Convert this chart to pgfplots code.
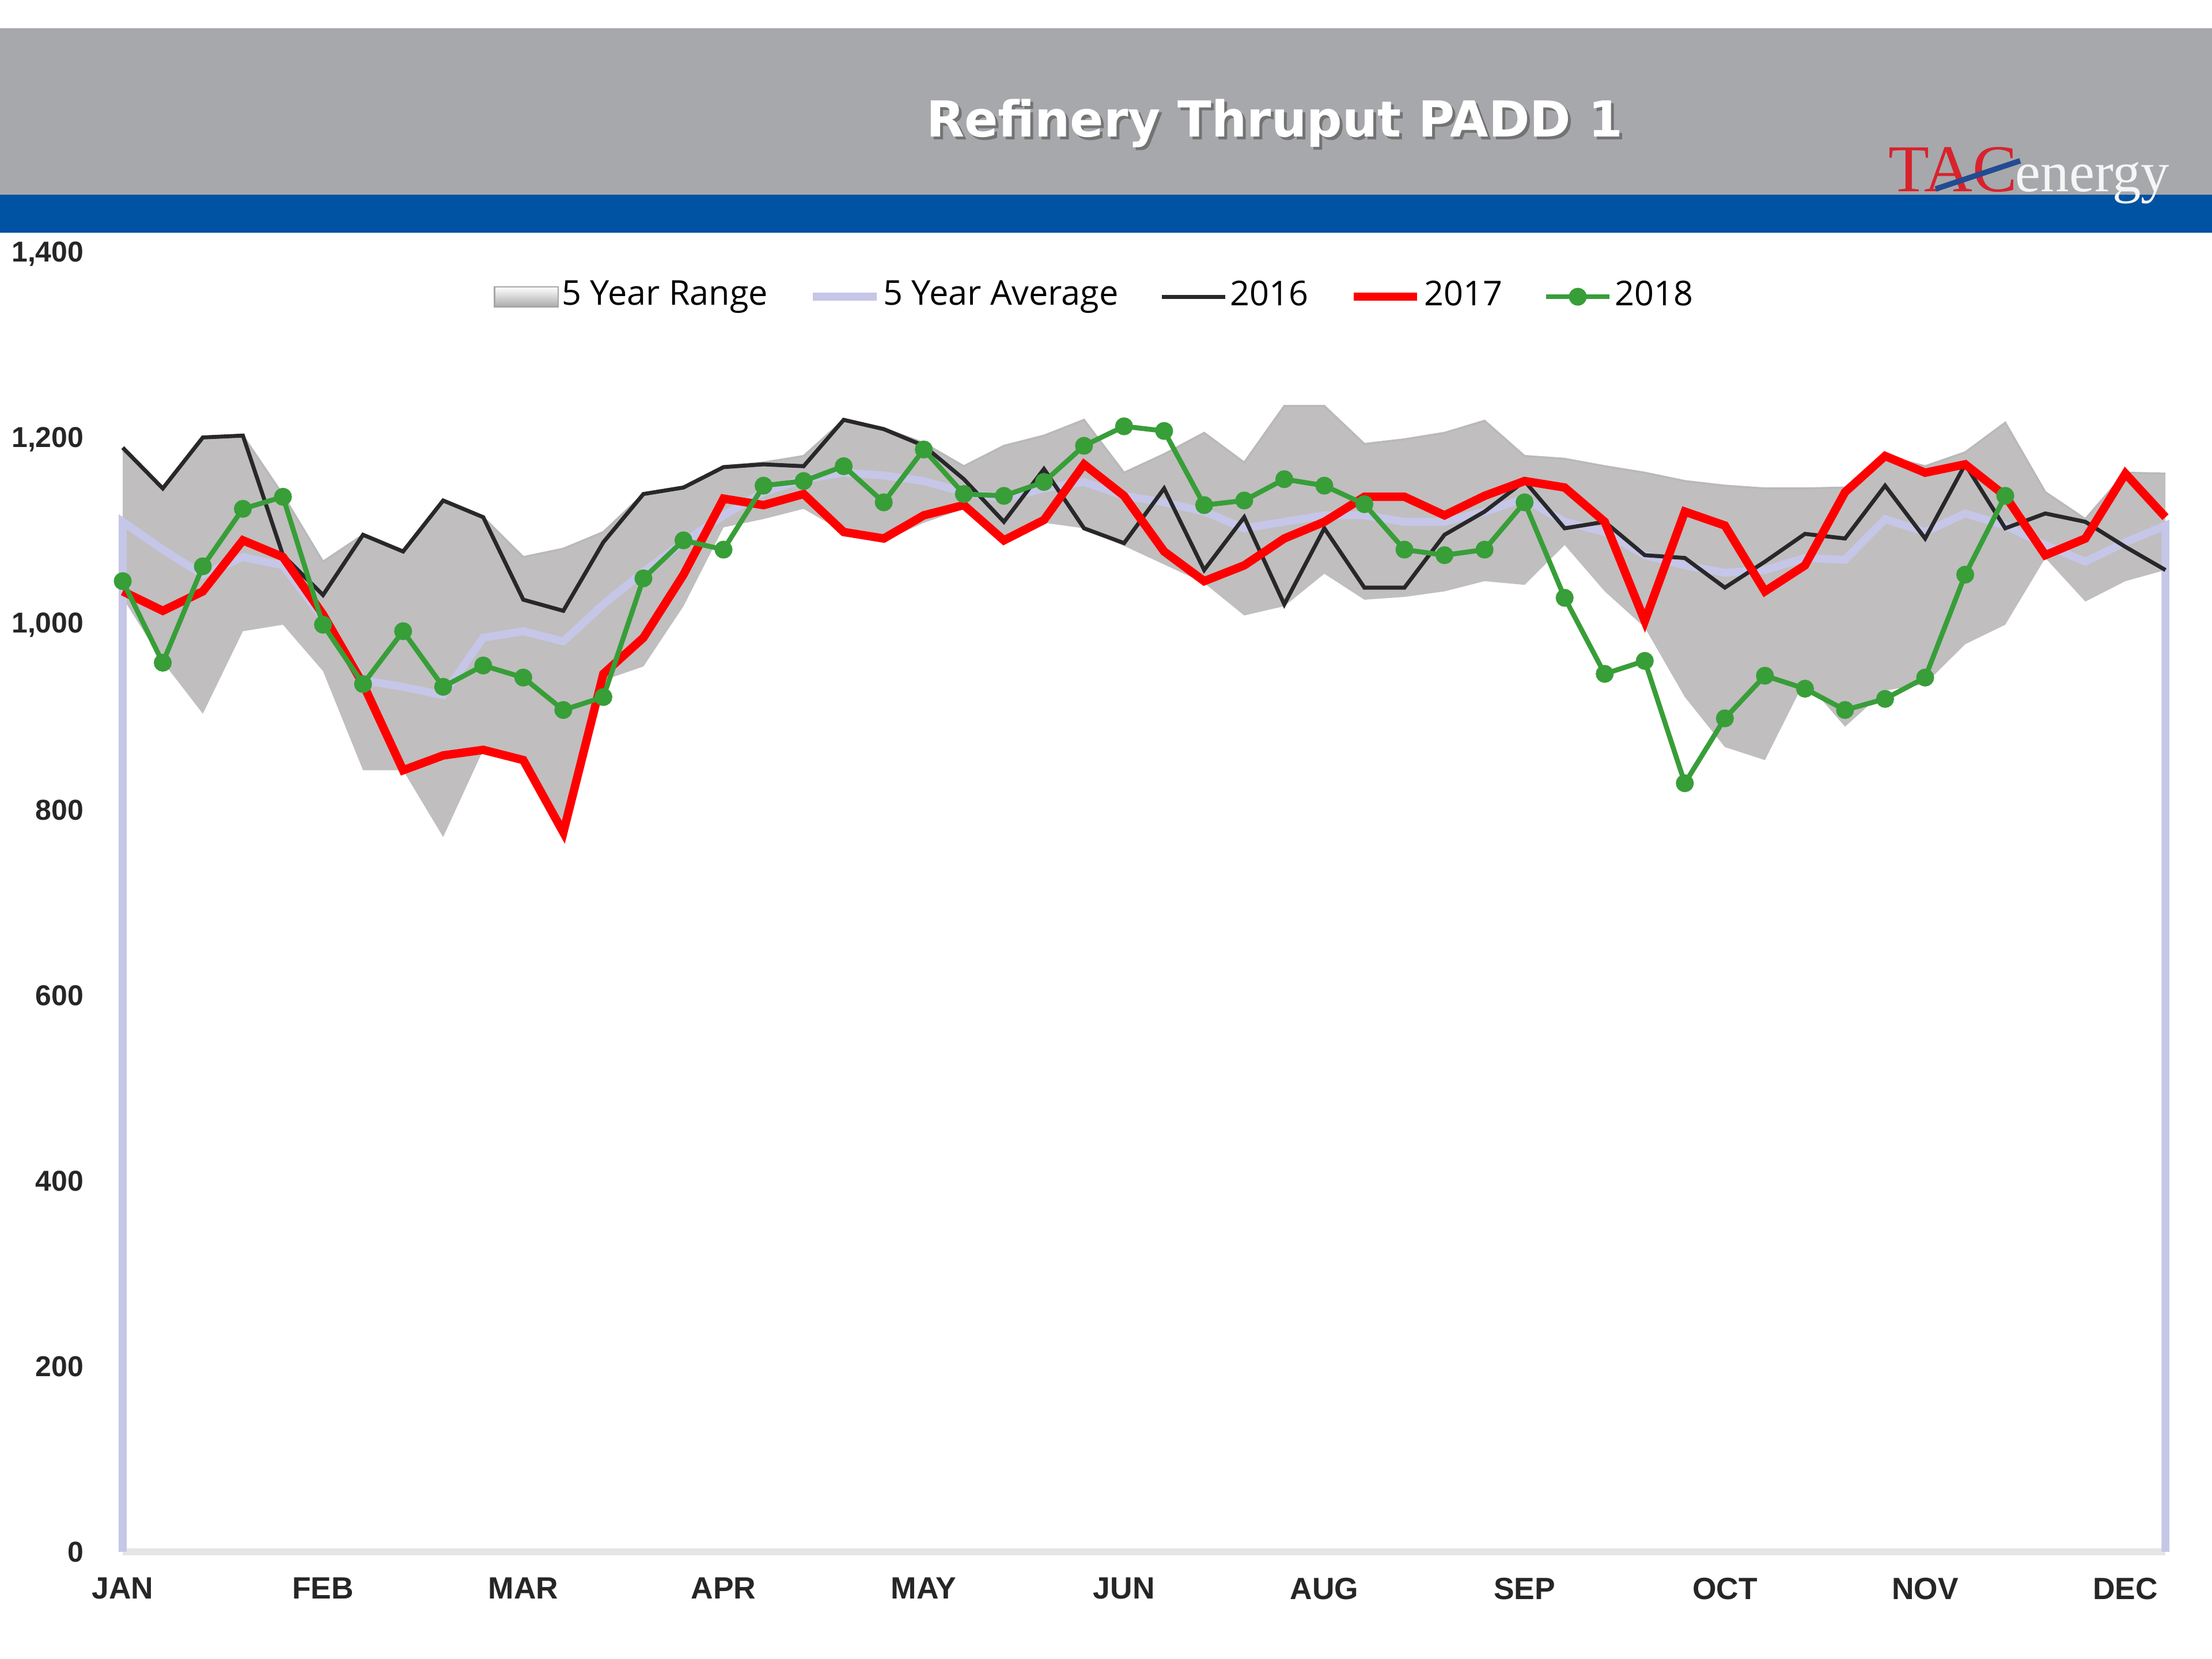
\documentclass[border=0pt]{standalone}
\usepackage{fontspec}
\setmainfont{Liberation Sans}
\newfontfamily\legfont{Open Sans}
\newfontfamily\titlefont{DejaVu Sans}
\newfontfamily\logofont{Liberation Serif}
\usepackage{graphicx}
\usepackage{pgfplots}
\pgfplotsset{compat=1.18}
\usepackage{pgfplotstable}

\definecolor{hdrgray}{RGB}{166,168,172}
\definecolor{hdrblue}{RGB}{0,82,162}
\definecolor{rangefill}{RGB}{192,190,191}
\definecolor{avgcol}{RGB}{198,198,232}
\definecolor{c16}{RGB}{40,40,42}
\definecolor{c17}{RGB}{255,0,0}
\definecolor{c18}{RGB}{56,158,56}
\definecolor{tacred}{RGB}{215,35,45}
\definecolor{swoosh}{RGB}{35,75,145}

% 5-year range polygon: upper edge week 0..51, then lower edge week 51..0
\pgfplotstableread{
w v
0 1188
1 1147
2 1202
3 1204
4 1140
5 1068
6 1097
7 1079
8 1134
9 1116
10 1073
11 1082
12 1100
13 1141
14 1148
15 1171
16 1175
17 1182
18 1221
19 1212
20 1196
21 1171
22 1193
23 1204
24 1221
25 1164
26 1184
27 1207
28 1175
29 1236
30 1236
31 1195
32 1200
33 1207
34 1220
35 1182
36 1179
37 1171
38 1164
39 1155
40 1150
41 1147
42 1147
43 1148
44 1182
45 1171
46 1186
47 1218
48 1143
49 1114
50 1164
51 1163
51 1059
50 1047
49 1025
48 1072
47 1000
46 979
45 936
44 929
43 890
42 940
41 854
40 868
39 922
38 997
37 1036
36 1086
35 1043
34 1047
33 1036
32 1030
31 1027
30 1055
29 1020
28 1010
27 1045
26 1065
25 1085
24 1104
23 1110
22 1090
21 1125
20 1110
19 1090
18 1100
17 1125
16 1114
15 1105
14 1020
13 955
12 940
11 776
10 854
9 865
8 771
7 843
6 843
5 950
4 1000
3 993
2 904
1 960
0 1029
}\rangepoly

\pgfplotstableread{
w hi y16 y17
0 1188 1191 1036
1 1147 1147 1015
2 1202 1202 1036
3 1204 1204 1091
4 1140 1075 1073
5 1068 1032 1011
6 1097 1097 936
7 1079 1079 843
8 1134 1134 859
9 1116 1116 865
10 1073 1027 854
11 1082 1015 776
12 1100 1089 947
13 1141 1141 986
14 1148 1148 1054
15 1171 1170 1136
16 1175 1173 1129
17 1182 1171 1141
18 1221 1221 1100
19 1212 1211 1093
20 1196 1193 1118
21 1171 1157 1129
22 1193 1111 1091
23 1204 1168 1113
24 1221 1104 1173
25 1164 1088 1139
26 1184 1147 1079
27 1207 1059 1047
28 1175 1116 1064
29 1236 1022 1093
30 1236 1104 1111
31 1195 1040 1138
32 1200 1040 1138
33 1207 1097 1118
34 1220 1122 1139
35 1182 1155 1155
36 1179 1104 1148
37 1171 1111 1111
38 1164 1075 1004
39 1155 1072 1122
40 1150 1040 1107
41 1147 1068 1036
42 1147 1098 1064
43 1148 1093 1143
44 1182 1150 1182
45 1171 1093 1164
46 1186 1173 1173
47 1218 1104 1139
48 1143 1120 1075
49 1114 1111 1093
50 1164 1084 1163
51 1163 1059 1116
}\rangedata

\pgfplotstableread{
w avg
0 0
0 1111
1 1081
2 1054
3 1073
4 1064
5 1007
6 940
7 933
8 924
9 986
10 993
11 982
12 1022
13 1057
14 1089
15 1118
16 1143
17 1157
18 1164
19 1161
20 1155
21 1143
22 1136
23 1147
24 1154
25 1139
26 1132
27 1122
28 1104
29 1111
30 1118
31 1118
32 1111
33 1111
34 1122
35 1136
36 1111
37 1100
38 1075
39 1064
40 1056
41 1059
42 1072
43 1070
44 1114
45 1100
46 1120
47 1107
48 1086
49 1068
50 1089
51 1107
51 0
}\avgdata

\pgfplotstableread{
w y18
0 1047
1 959
2 1063
3 1125
4 1138
5 1000
6 936
7 993
8 933
9 956
10 943
11 908
12 922
13 1050
14 1091
15 1081
16 1150
17 1155
18 1171
19 1132
20 1189
21 1141
22 1139
23 1154
24 1193
25 1214
26 1209
27 1129
28 1134
29 1157
30 1150
31 1130
32 1081
33 1075
34 1081
35 1132
36 1029
37 947
38 961
39 829
40 899
41 945
42 931
43 908
44 920
45 943
46 1054
47 1139
}\greendata

\begin{document}
\begin{tikzpicture}
\fill[white] (0,0) rectangle (15.68,11.76);
\fill[hdrgray] (0,10.38) rectangle (15.68,11.56);
\fill[hdrblue] (0,10.11) rectangle (15.68,10.38);
\node[text=black!55, inner sep=0] at (9.055,10.865) {\titlefont\bfseries\fontsize{10}{12}\selectfont Refinery Thruput PADD 1};
\node[text=white, inner sep=0] at (9.035,10.885) {\titlefont\bfseries\fontsize{10}{12}\selectfont Refinery Thruput PADD 1};
\node[anchor=base west, inner sep=0, text=tacred] at (13.38,10.40) {\logofont\fontsize{13.5}{14}\selectfont TAC};
\node[anchor=base west, inner sep=0, text=white!92!gray] at (14.28,10.40) {\logofont\fontsize{11.5}{12}\selectfont energy};
\draw[swoosh, line width=1.1pt] (13.72,10.42) -- (14.32,10.62);

\begin{axis}[
  at={(0.87cm,0.76cm)}, anchor=south west,
  scale only axis, width=14.48cm, height=9.2cm,
  xmin=0, xmax=51, ymin=0, ymax=1400,
  clip=false,
  axis x line*=bottom, axis y line*=left,
  y axis line style={draw=none},
  x axis line style={draw=gray!20, line width=1.4pt, -},
  xtick={0,5,10,15,20,25,30,35,40,45,50},
  xticklabels={JAN,FEB,MAR,APR,MAY,JUN,AUG,SEP,OCT,NOV,DEC},
  ytick={0,200,400,600,800,1000,1200,1400},
  major tick length=0pt,
  yticklabel style={font=\bfseries\fontsize{5.8}{7}\selectfont, text=black!85, inner xsep=0pt, xshift=-0.27cm},
  xticklabel style={font=\bfseries\fontsize{6.2}{7}\selectfont, text=black!85, yshift=-0.06cm},
  /pgf/number format/1000 sep={,},
  /pgf/number format/assume math mode=true,
  legend columns=-1,
  legend image code/.code={\draw[mark repeat=2,mark phase=2,#1] plot coordinates {(0cm,0cm) (0.225cm,0cm) (0.45cm,0cm)};},
  legend style={at={(0.476,0.967)}, anchor=center, draw=none, fill=none,
    font=\legfont\fontsize{6.9}{8}\selectfont, inner sep=0pt,
    nodes={inner xsep=0.6pt},
    /tikz/every even column/.append style={column sep=0.27cm}},
]
\addplot[fill=rangefill, draw=none,
  legend image code/.code={\fill[top color=white, bottom color=gray!65, draw=gray!70, line width=0.3pt] (0cm,-0.07cm) rectangle (0.45cm,0.07cm);}]
  table[x=w,y=v]{\rangepoly};
\addlegendentry{5 Year Range}
\addplot[gray!55, line width=0.4pt, forget plot] table[x=w,y=hi]{\rangedata};
\addplot[avgcol, line width=1.6pt] table[x=w,y=avg]{\avgdata};
\addlegendentry{5 Year Average}
\addplot[c16, line width=0.8pt] table[x=w,y=y16]{\rangedata};
\addlegendentry{2016}
\addplot[c17, line width=1.7pt] table[x=w,y=y17]{\rangedata};
\addlegendentry{2017}
\addplot[c18, line width=1pt, mark=*, mark size=1.3pt, mark options={fill=c18, draw=c18}] table[x=w,y=y18]{\greendata};
\addlegendentry{2018}
\end{axis}
\end{tikzpicture}
\end{document}
